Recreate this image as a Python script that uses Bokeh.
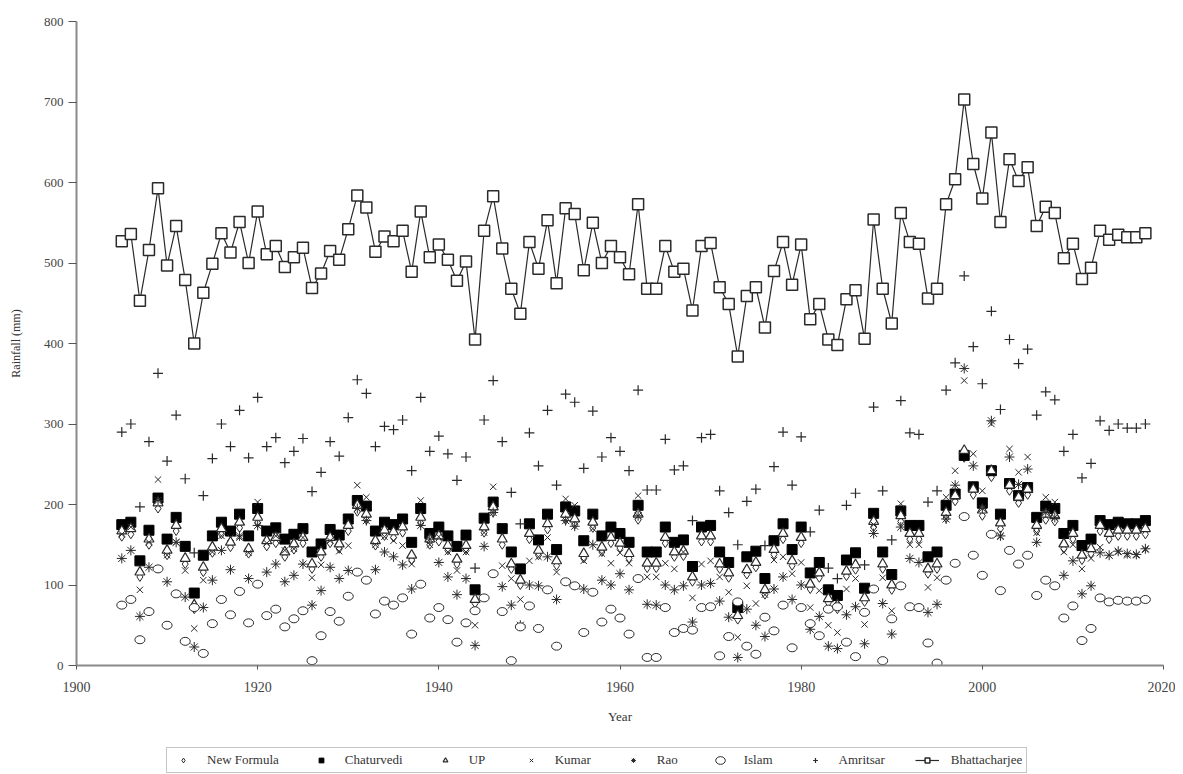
from bokeh.plotting import figure
from bokeh.layouts import column
from bokeh.models import Range1d, Legend, LegendItem, FixedTicker
from bokeh.embed import file_html
from bokeh.resources import INLINE

years = list(range(1905, 2019))

new_formula = [
    160, 163, 110, 150, 195, 137, 167, 126, 70, 116,
    140, 163, 147, 171, 139, 177, 148, 152, 135, 144,
    152, 120, 135, 152, 145, 167, 191, 181, 149, 161,
    159, 165, 131, 177, 150, 154, 143, 126, 143, 77,
    165, 190, 150, 120, 100, 157, 137, 169, 124, 181,
    175, 133, 171, 141, 152, 146, 133, 181, 121, 121,
    152, 135, 136, 104, 154, 154, 120, 109, 57, 113,
    122, 88, 138, 157, 124, 152, 95, 109, 78, 70,
    111, 119, 79, 172, 120, 94, 179, 157, 157, 114,
    120, 183, 204, 258, 212, 186, 234, 170, 217, 202,
    212, 167, 181, 179, 145, 157, 131, 139, 167, 157,
    161, 161, 161, 163]

chaturvedi = [
    175, 178, 130, 168, 208, 157, 184, 148, 90, 137,
    161, 178, 167, 188, 161, 195, 167, 171, 157, 163,
    170, 141, 151, 169, 162, 182, 205, 198, 167, 178,
    175, 182, 153, 195, 164, 172, 161, 148, 162, 94,
    183, 203, 170, 141, 120, 176, 156, 188, 144, 197,
    192, 155, 188, 161, 172, 164, 153, 199, 141, 141,
    172, 153, 156, 123, 172, 174, 141, 128, 72, 135,
    142, 108, 155, 176, 144, 172, 115, 128, 94, 87,
    131, 140, 96, 189, 141, 113, 192, 174, 174, 135,
    141, 199, 213, 261, 222, 202, 242, 188, 226, 211,
    221, 184, 198, 195, 164, 174, 149, 157, 180, 175,
    178, 176, 176, 180]

up = [
    167, 170, 116, 157, 202, 143, 174, 133, 75, 122,
    147, 170, 153, 178, 145, 184, 155, 159, 141, 151,
    159, 126, 141, 159, 151, 174, 199, 188, 155, 168,
    166, 172, 137, 184, 157, 161, 149, 132, 149, 82,
    172, 197, 157, 126, 106, 164, 143, 176, 130, 188,
    182, 139, 178, 147, 159, 152, 139, 188, 127, 127,
    159, 141, 142, 110, 161, 161, 126, 115, 62, 119,
    128, 94, 144, 164, 130, 159, 101, 115, 83, 75,
    117, 125, 84, 179, 126, 100, 186, 164, 164, 120,
    126, 190, 211, 267, 219, 193, 242, 177, 224, 209,
    219, 174, 188, 186, 151, 164, 137, 145, 174, 164,
    168, 168, 168, 170]

kumar = [
    163, 172, 94, 153, 231, 137, 153, 118, 46, 106,
    141, 161, 159, 159, 140, 203, 152, 161, 143, 145,
    159, 109, 125, 155, 142, 149, 224, 209, 150, 160,
    155, 149, 126, 205, 150, 160, 141, 118, 141, 50,
    165, 222, 124, 108, 82, 130, 135, 159, 116, 207,
    199, 130, 170, 139, 127, 140, 127, 211, 110, 110,
    127, 120, 141, 84, 126, 130, 110, 91, 35, 99,
    77, 88, 131, 135, 114, 128, 72, 93, 50, 41,
    95, 108, 51, 175, 109, 68, 201, 150, 150, 97,
    109, 209, 242, 354, 263, 217, 300, 160, 269, 240,
    259, 165, 209, 203, 141, 150, 120, 133, 147, 137,
    141, 137, 137, 144]

rao = [
    133, 143, 61, 122, 205, 104, 153, 85, 23, 72,
    106, 143, 119, 161, 108, 174, 116, 126, 104, 112,
    126, 75, 93, 122, 108, 118, 195, 180, 119, 141,
    135, 125, 95, 174, 157, 128, 110, 88, 108, 25,
    148, 190, 98, 75, 50, 100, 99, 135, 82, 180,
    173, 95, 150, 106, 100, 114, 94, 186, 76, 75,
    100, 94, 99, 54, 100, 102, 80, 60, 10, 70,
    50, 36, 95, 110, 82, 100, 45, 61, 24, 21,
    63, 73, 27, 164, 77, 39, 172, 133, 128, 66,
    76, 182, 224, 369, 248, 195, 304, 161, 259, 225,
    244, 153, 190, 184, 112, 130, 89, 99, 140, 137,
    142, 139, 138, 145]

islam = [
    75, 82, 32, 67, 120, 50, 89, 30, 72, 15,
    52, 82, 63, 92, 53, 101, 62, 70, 48, 58,
    68, 6, 37, 67, 55, 86, 116, 106, 64, 80,
    75, 84, 39, 101, 59, 72, 57, 29, 53, 68,
    84, 114, 67, 6, 48, 74, 46, 94, 24, 104,
    99, 41, 91, 54, 70, 59, 39, 108, 10, 10,
    72, 41, 46, 44, 72, 73, 12, 36, 79, 24,
    14, 60, 43, 75, 22, 72, 52, 37, 70, 73,
    29, 11, 66, 95, 6, 58, 99, 73, 72, 28,
    3, 106, 127, 185, 137, 112, 163, 93, 143, 126,
    137, 87, 106, 99, 59, 74, 31, 46, 84, 79,
    81, 80, 80, 82]

amritsar = [
    290, 300, 197, 278, 363, 254, 311, 232, 140, 211,
    257, 300, 272, 317, 258, 333, 272, 283, 252, 266,
    282, 216, 240, 278, 260, 308, 355, 338, 272, 297,
    293, 305, 242, 333, 266, 285, 263, 230, 259, 121,
    305, 354, 278, 215, 176, 289, 248, 317, 224, 337,
    327, 245, 316, 259, 283, 266, 242, 342, 218, 218,
    281, 243, 248, 180, 283, 287, 217, 190, 150, 204,
    219, 149, 247, 290, 224, 284, 166, 193, 121, 108,
    199, 214, 125, 321, 217, 156, 329, 289, 287, 203,
    217, 342, 376, 484, 396, 350, 440, 318, 405, 375,
    393, 311, 340, 330, 266, 287, 233, 251, 304, 292,
    300, 295, 295, 300]

bhattacharjee = [
    527, 536, 453, 516, 593, 497, 546, 479, 400, 463,
    499, 537, 513, 551, 500, 564, 511, 521, 495, 507,
    519, 469, 487, 515, 504, 542, 584, 569, 514, 533,
    527, 540, 489, 564, 507, 523, 504, 478, 502, 405,
    540, 583, 518, 468, 437, 526, 493, 553, 475, 568,
    561, 491, 550, 500, 521, 507, 486, 573, 468, 468,
    521, 489, 493, 441, 521, 525, 470, 449, 384, 459,
    470, 420, 490, 526, 473, 523, 430, 449, 405, 398,
    455, 466, 406, 554, 468, 425, 562, 526, 524, 456,
    468, 573, 604, 703, 623, 580, 662, 551, 629, 602,
    619, 546, 570, 562, 506, 524, 480, 494, 540, 529,
    535, 532, 532, 537]

x_ticks = [1900, 1920, 1940, 1960, 1980, 2000, 2020]
y_ticks = [0, 100, 200, 300, 400, 500, 600, 700, 800]

FONT = "Liberation Serif"
INK = "#2a2a2a"

STYLES = {
    "nf": dict(marker="diamond", size=9, fill_color="white", line_color=INK, line_width=1),
    "ch": dict(marker="square", size=10, fill_color="black", line_color="black", line_width=1),
    "up": dict(marker="triangle", size=10, fill_color="white", line_color=INK, line_width=1.2),
    "ku": dict(marker="x", size=9, line_color=INK, line_width=1),
    "ra": dict(marker="asterisk", size=10, line_color=INK, line_width=1),
    "am": dict(marker="cross", size=10, line_color=INK, line_width=1.2),
    "bs": dict(marker="square", size=11, fill_color="white", line_color=INK, line_width=1.5),
}
ELL = dict(width=10, height=8, width_units="screen", height_units="screen",
           fill_color="white", line_color=INK, line_width=1)

p = figure(width=1175, height=740,
           x_range=Range1d(1900, 2020), y_range=Range1d(0, 800),
           output_backend="svg", toolbar_location=None,
           min_border_left=76, min_border_right=12,
           min_border_top=21, min_border_bottom=75)

p.xgrid.visible = False
p.ygrid.visible = False
p.outline_line_color = None
p.background_fill_color = "white"

for ax in (p.xaxis[0], p.yaxis[0]):
    ax.axis_line_color = "#8a8a8a"
    ax.axis_line_width = 2
    ax.major_tick_line_color = "#555555"
    ax.minor_tick_line_color = None
    ax.major_tick_in = 0
    ax.major_label_text_font = FONT
    ax.major_label_text_color = "#444444"
    ax.axis_label_text_font = FONT
    ax.axis_label_text_font_style = "normal"
    ax.axis_label_text_color = "#333333"

p.xaxis.ticker = FixedTicker(ticks=x_ticks)
p.yaxis.ticker = FixedTicker(ticks=y_ticks)
p.xaxis.major_tick_out = 4
p.xaxis.major_label_standoff = 12
p.xaxis.major_label_text_font_size = "14px"
p.xaxis.axis_label = "Year"
p.xaxis.axis_label_text_font_size = "13px"
p.xaxis.axis_label_standoff = 14

p.yaxis.major_tick_out = 8
p.yaxis.major_label_standoff = 5
p.yaxis.major_label_text_font_size = "13px"
p.yaxis.axis_label = "Rainfall (mm)"
p.yaxis.axis_label_text_font_size = "12px"
p.yaxis.axis_label_standoff = 18

p.scatter(years, new_formula, **STYLES["nf"])
p.scatter(years, chaturvedi, **STYLES["ch"])
p.scatter(years, up, **STYLES["up"])
p.scatter(years, kumar, **STYLES["ku"])
p.scatter(years, rao, **STYLES["ra"])
p.ellipse(years, islam, **ELL)
p.scatter(years, amritsar, **STYLES["am"])
p.line(years, bhattacharjee, line_color=INK, line_width=1.2)
p.scatter(years, bhattacharjee, **STYLES["bs"])

# legend strip below the chart (its own small canvas so nothing is clipped)
lg = figure(width=1175, height=34, x_range=Range1d(0, 1), y_range=Range1d(0, 1),
            output_backend="svg", toolbar_location=None,
            min_border=0, x_axis_location=None, y_axis_location=None)
lg.xgrid.visible = False
lg.ygrid.visible = False
lg.outline_line_color = None

# one point each, far outside the strip's range: only the legend glyphs show
off_x, off_y = [-50], [-50]
l_nf = lg.scatter(off_x, off_y, **STYLES["nf"])
l_ch = lg.scatter(off_x, off_y, **STYLES["ch"])
l_up = lg.scatter(off_x, off_y, **STYLES["up"])
l_ku = lg.scatter(off_x, off_y, **STYLES["ku"])
l_ra = lg.scatter(off_x, off_y, **STYLES["ra"])
l_is = lg.ellipse(off_x, off_y, **ELL)
l_am = lg.scatter(off_x, off_y, **STYLES["am"])
l_bl = lg.line([-50, -49], [-50, -49], line_color=INK, line_width=1.2)
l_bs = lg.scatter(off_x, off_y, **STYLES["bs"])

items = [
    LegendItem(label="New Formula", renderers=[l_nf]),
    LegendItem(label="Chaturvedi", renderers=[l_ch]),
    LegendItem(label="UP", renderers=[l_up]),
    LegendItem(label="Kumar", renderers=[l_ku]),
    LegendItem(label="Rao", renderers=[l_ra]),
    LegendItem(label="Islam", renderers=[l_is]),
    LegendItem(label="Amritsar", renderers=[l_am]),
    LegendItem(label="Bhattacharjee", renderers=[l_bl, l_bs]),
]
legend = Legend(items=items, orientation="horizontal", location=(90, 1),
                label_text_font=FONT, label_text_font_size="13px",
                label_text_color="#333333",
                glyph_width=24, glyph_height=12, label_standoff=12,
                spacing=30, padding=4, margin=0,
                border_line_color="#8a8a8a", border_line_width=1,
                background_fill_color="white", background_fill_alpha=1.0)
lg.add_layout(legend)

layout = column(p, lg, spacing=0)
open("out.html", "w").write(file_html(layout, INLINE))
